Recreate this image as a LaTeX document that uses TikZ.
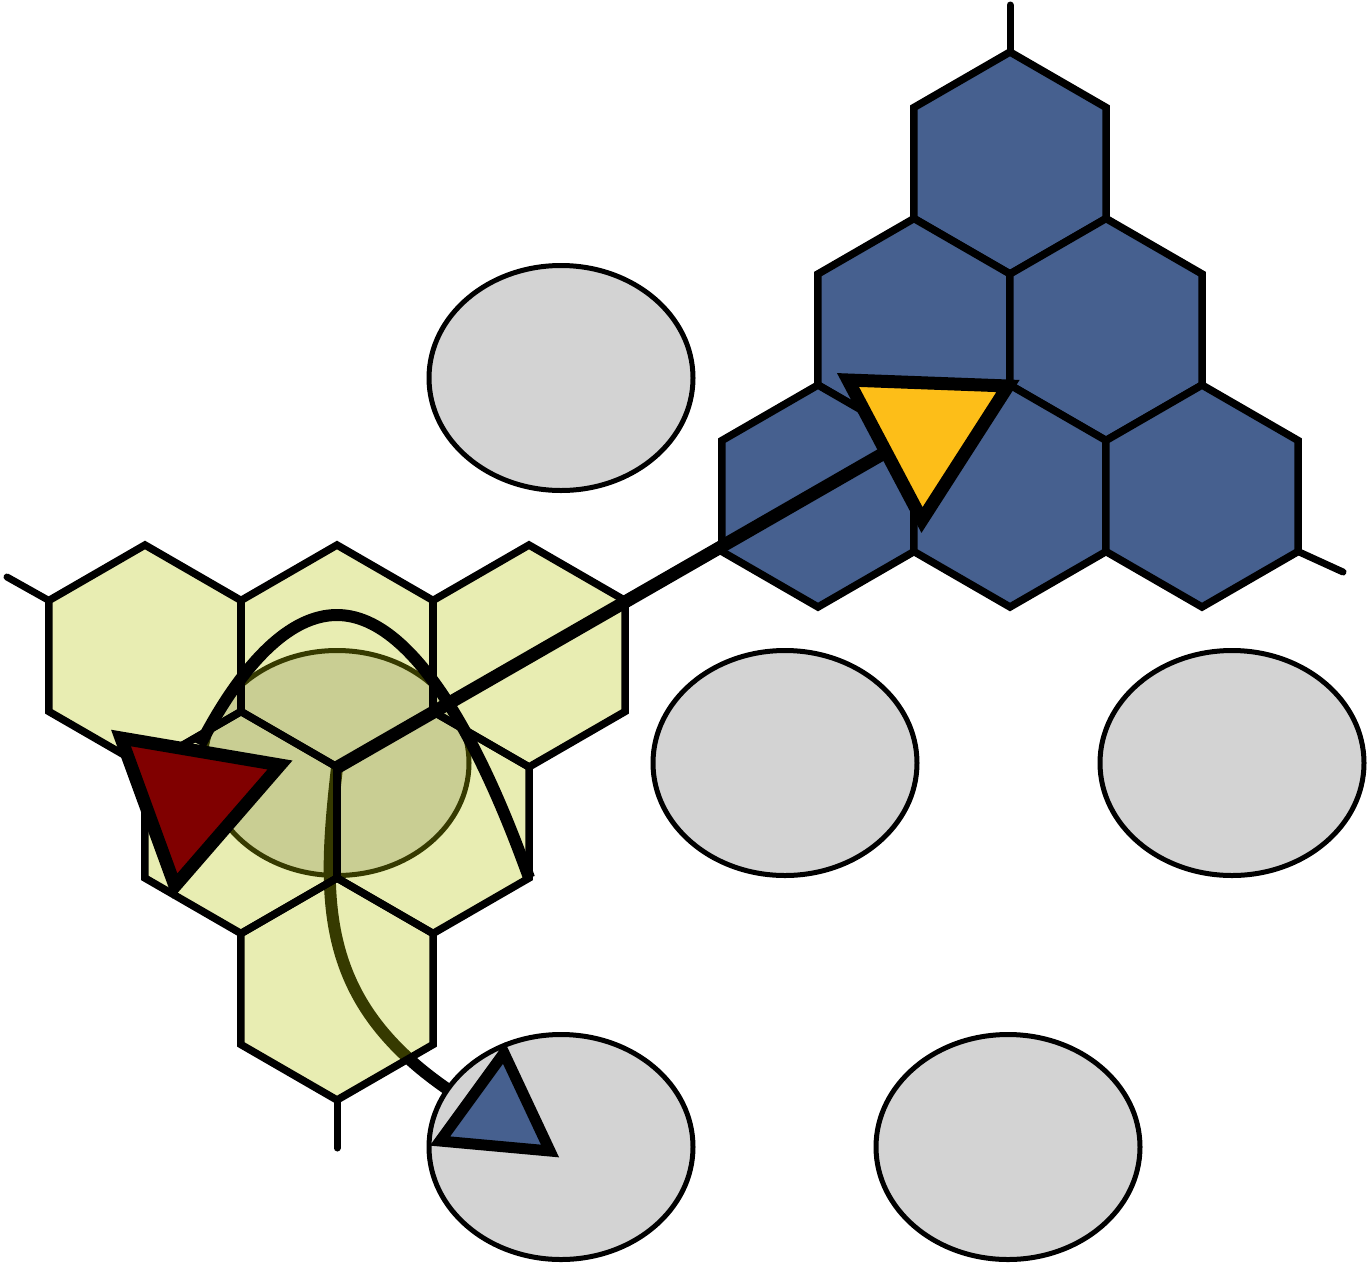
\documentclass[tikz,border=0pt]{standalone}
\usetikzlibrary{shapes.geometric}
\definecolor{hexblue}{RGB}{70,96,143}
\definecolor{hexyellow}{RGB}{180,195,0}
\definecolor{trired}{RGB}{128,0,0}
\definecolor{triyellow}{RGB}{253,190,24}
\definecolor{ellgray}{RGB}{211,211,211}
\begin{document}
\begin{tikzpicture}[x=1pt,y=-1pt,
  ell/.style={ellipse, draw=black, fill=ellgray, line width=5pt, minimum width=264pt, minimum height=225pt, inner sep=0pt, outer sep=0pt},
  hexedge/.style={draw=black, line width=7.5pt},
  tickline/.style={draw=black, line width=7pt, line cap=round},
  thickline/.style={draw=black, line width=13pt},
  arcline/.style={draw=black, line width=12pt},
  curveline/.style={draw=black, line width=12pt},
  tri/.style={draw=black, line width=13pt, line join=miter}
]
\useasboundingbox (0,0) rectangle (1370,1266);

% gray ellipses
\node[ell] (e1) at (561,378) {};
\node[ell] (e2) at (337,763) {};
\node[ell] (e3) at (785,763) {};
\node[ell] (e4) at (1232,763) {};
\node[ell] (e5) at (561,1147) {};
\node[ell] (e6) at (1008,1147) {};

% blue hex cluster
\foreach \cx/\cy in {1010/163, 914/329.5, 1106/329.5, 818/496, 1010/496, 1202/496}{
  \filldraw[fill=hexblue, hexedge] (\cx,\cy-111) -- (\cx+96.1,\cy-55.5) -- (\cx+96.1,\cy+55.5) -- (\cx,\cy+111) -- (\cx-96.1,\cy+55.5) -- (\cx-96.1,\cy-55.5) -- cycle;
}
\draw[tickline] (1010,52) -- (1010,5);
\draw[tickline] (1298.1,551.5) -- (1343,572);

% key points
\coordinate (vtop) at (337,767.5);
\coordinate (vright) at (529.1,878);
\coordinate (ytc) at (926,429);
\coordinate (rtc) at (192,797);
\coordinate (btc) at (498,1115);
\coordinate (arcstart) at (200,745);

% curve under the yellow hexes
\draw[curveline] (vtop) .. controls (322,900) and (318,1000) .. (e5.153);

% yellow hex cluster (translucent fill, then edges)
\foreach \cx/\cy in {145/656, 337/656, 529/656, 241/822.5, 433/822.5, 337/989}{
  \fill[hexyellow, fill opacity=0.3] (\cx,\cy-111) -- (\cx+96.1,\cy-55.5) -- (\cx+96.1,\cy+55.5) -- (\cx,\cy+111) -- (\cx-96.1,\cy+55.5) -- (\cx-96.1,\cy-55.5) -- cycle;
}
\foreach \cx/\cy in {145/656, 337/656, 529/656, 241/822.5, 433/822.5, 337/989}{
  \draw[hexedge] (\cx,\cy-111) -- (\cx+96.1,\cy-55.5) -- (\cx+96.1,\cy+55.5) -- (\cx,\cy+111) -- (\cx-96.1,\cy+55.5) -- (\cx-96.1,\cy-55.5) -- cycle;
}
\draw[tickline] (48.9,600.5) -- (7,577);
\draw[tickline] (337,1100) -- (337,1148);

% connectors
\draw[thickline] (vtop) -- (ytc);
\draw[arcline] (arcstart) parabola bend (337,615) (vright);

% triangles
\draw[tri, fill=triyellow] (848,380) -- (1008,386) -- (922,520) -- cycle;
\draw[tri, fill=trired] (121,738) -- (280,765) -- (175,886) -- cycle;
\draw[tri, fill=hexblue, line width=11pt] (504,1053) -- (550,1151) -- (440,1141) -- cycle;
\end{tikzpicture}
\end{document}
